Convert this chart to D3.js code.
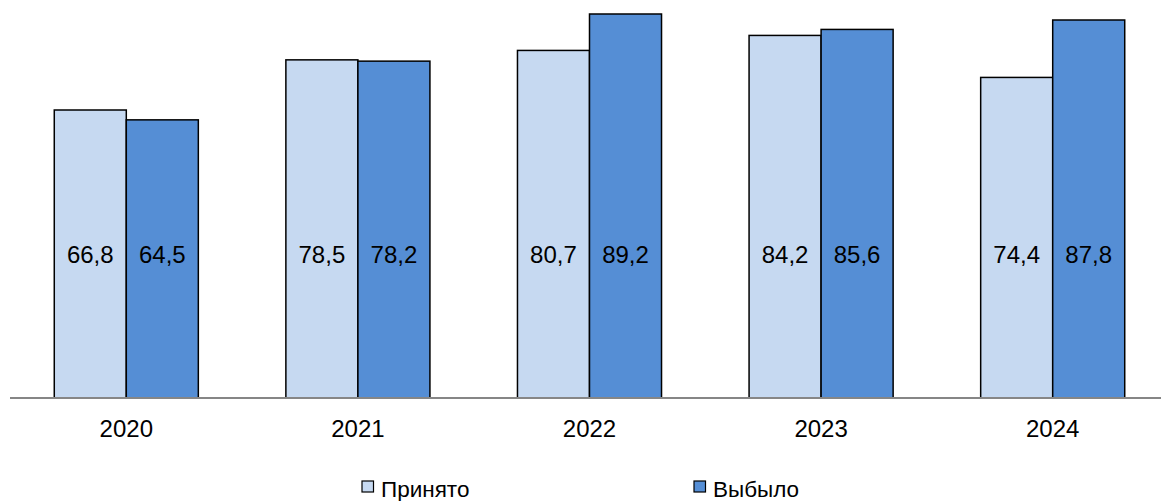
<!DOCTYPE html>
<html><head><meta charset="utf-8">
<script src="https://cdn.jsdelivr.net/npm/d3@7"></script>
<style>body{margin:0;background:#fff}svg{display:block}text{font-family:"Liberation Sans",Arial,sans-serif;fill:#000}</style>
</head><body>
<script>
const years = ["2020","2021","2022","2023","2024"];
const seriesNames = ["Принято","Выбыло"];
const accepted = [66.8,78.5,80.7,84.2,74.4];
const left = [64.5,78.2,89.2,85.6,87.8];
const colors = ["#C6D9F1","#558ED5"];

const W=1161,H=501;
const svg=d3.select("body").append("svg").attr("width",W).attr("height",H);
const base=398;
const y=d3.scaleLinear().domain([-0.4,92]).range([base,2]);
const x0=d3.scaleBand().domain(years).range([10.5,1168.5]).paddingInner(0.378).paddingOuter(0.189);
const x1=d3.scaleBand().domain([0,1]).range([0,x0.bandwidth()]);
const data=years.map((yr,i)=>({yr,vals:[accepted[i],left[i]]}));

const g=svg.append("g");
const grp=g.selectAll("g.grp").data(data).join("g").attr("transform",d=>`translate(${x0(d.yr)},0)`);
grp.selectAll("rect").data(d=>d.vals.map((v,k)=>({v,k}))).join("rect")
  .attr("x",d=>x1(d.k)).attr("width",x1.bandwidth())
  .attr("y",d=>y(d.v)).attr("height",d=>base-y(d.v))
  .attr("fill",d=>colors[d.k]).attr("stroke","#000").attr("stroke-width",1.5);
grp.selectAll("text.val").data(d=>d.vals.map((v,k)=>({v,k}))).join("text").attr("class","val")
  .attr("x",d=>x1(d.k)+x1.bandwidth()/2).attr("y",254).attr("dy","0.36em")
  .attr("text-anchor","middle").attr("font-size",24)
  .text(d=>d3.format(".1f")(d.v).replace(".",","));

// axis
const ax=svg.append("g").attr("transform",`translate(0,${base})`)
  .call(d3.axisBottom(x0).tickSize(0).tickPadding(22));
ax.select(".domain").attr("d",`M10,0H1161`).attr("stroke","#868686").attr("stroke-width",2);
ax.selectAll("text").attr("font-size",24).attr("font-family","Liberation Sans, Arial, sans-serif").attr("fill","#000");

// legend
const lg=svg.append("g");
const lx=[362,694];
seriesNames.forEach((n,i)=>{
  lg.append("rect").attr("x",lx[i]).attr("y",481).attr("width",11.5).attr("height",11)
    .attr("fill",colors[i]).attr("stroke","#000").attr("stroke-width",1.2);
  lg.append("text").attr("x",lx[i]+19).attr("y",497).attr("font-size",22.5).text(n);
});
</script>
</body></html>
